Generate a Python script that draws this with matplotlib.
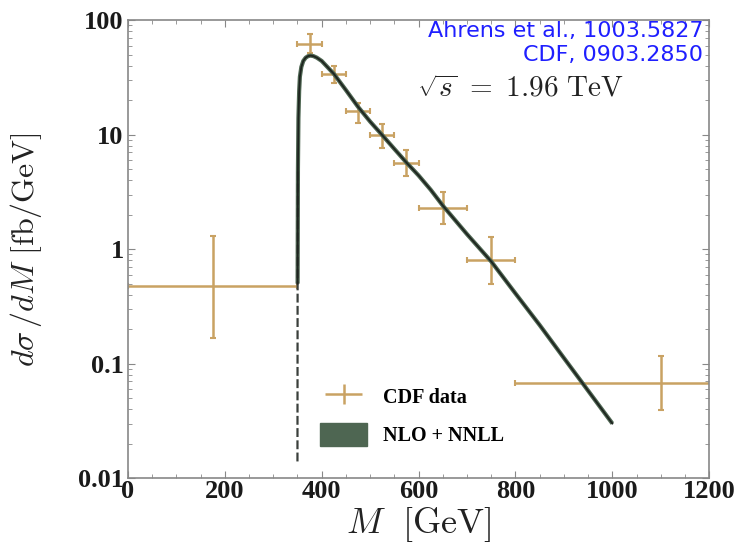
import numpy as np
import matplotlib
matplotlib.use('Agg')
import matplotlib.pyplot as plt
from matplotlib.patches import Patch
from matplotlib.legend_handler import HandlerErrorbar
from matplotlib.ticker import FixedLocator, NullFormatter

plt.rcParams['mathtext.fontset'] = 'cm'
plt.rcParams['font.family'] = 'Liberation Serif'

# CDF data points (M bin centre, value, errors)
m_data = [175, 375, 425, 475, 525, 575, 650, 750, 1100]
y_data = [0.475, 62, 34, 16, 9.9, 5.7, 2.3, 0.8, 0.068]
y_up = [1.30, 75, 39.8, 19, 12.5, 7.3, 3.18, 1.28, 0.116]
y_lo = [0.168, 51.6, 28.5, 12.7, 7.7, 4.35, 1.66, 0.494, 0.039]
m_lo = [0, 350, 400, 450, 500, 550, 600, 700, 800]
m_hi = [350, 400, 450, 500, 550, 600, 700, 800, 1400]

# NLO + NNLL curve
m_curve = [350, 350.3, 351, 352, 353.5, 355, 358, 362, 367, 372, 377, 383, 390,
           400, 425, 450, 475, 500, 525, 550, 575, 600, 625, 650, 700, 750,
           800, 850, 900, 950, 1000]
y_curve = [0.014, 0.5, 5, 14, 24, 32, 39, 44, 47, 48.5, 49, 48.5, 47,
           44, 34, 24.5, 17.5, 13, 9.9, 7.5, 5.7, 4.4, 3.3, 2.4, 1.35, 0.78,
           0.41, 0.217, 0.112, 0.058, 0.030]
n_rise = 2  # threshold part drawn dashed

data_col = '#c9a263'
band_col = '#4e6652'

fig = plt.figure(figsize=(7.35, 5.44), dpi=100)
ax = fig.add_axes([0.174, 0.121, 0.791, 0.842])

yerr = [np.array(y_data) - np.array(y_lo), np.array(y_up) - np.array(y_data)]
xerr = [np.array(m_data) - np.array(m_lo), np.array(m_hi) - np.array(m_data)]
ax.errorbar(m_data, y_data, xerr=xerr, yerr=yerr, fmt='none', ecolor=data_col,
            elinewidth=1.8, capsize=2.5, capthick=1.5, zorder=2)

# rising edge at threshold: thin dashed
ax.plot(m_curve[:n_rise + 1], y_curve[:n_rise + 1], color='#3a3f3b', lw=1.6,
        ls=(0, (4, 1.5)), zorder=4)
ax.plot(m_curve[n_rise - 1:], y_curve[n_rise - 1:], color=band_col, lw=3.0,
        solid_capstyle='butt', zorder=3)
ax.plot(m_curve[n_rise - 1:], y_curve[n_rise - 1:], color='#1e241f', lw=1.3, zorder=4)

ax.set_yscale('log')
ax.set_xlim(0, 1200)
ax.set_ylim(0.01, 100)
ax.set_xticks([0, 200, 400, 600, 800, 1000, 1200])
ax.xaxis.set_minor_locator(FixedLocator(np.arange(0, 1201, 50)))
ax.set_yticks([0.01, 0.1, 1, 10, 100])
ax.set_yticklabels(['0.01', '0.1', '1', '10', '100'])
ax.yaxis.set_minor_formatter(NullFormatter())

ax.tick_params(which='both', direction='in', top=True, right=True, color='#888888')
ax.tick_params(which='major', length=5, width=0.8, labelsize=19, labelcolor='#1a1a1a')
ax.tick_params(which='minor', length=3, width=0.6)
ax.tick_params(axis='x', pad=1)
ax.tick_params(axis='y', pad=3)
for lab in ax.get_xticklabels() + ax.get_yticklabels():
    lab.set_fontweight('bold')
for s in ax.spines.values():
    s.set_color('#888888')
    s.set_linewidth(1.2)

ax.set_xlabel(r'$M\ \ [\mathrm{GeV}]$', fontsize=26, labelpad=2, color='#222222')
ax.set_ylabel(r'$d\sigma\,/dM\ [\mathrm{fb/GeV}]$', fontsize=23, labelpad=24, color='#222222')

ax.text(0.99, 0.998, 'Ahrens et al., 1003.5827', transform=ax.transAxes, ha='right', va='top',
        color='#1f1fff', fontsize=16, family='DejaVu Sans')
ax.text(0.99, 0.946, 'CDF, 0903.2850', transform=ax.transAxes, ha='right', va='top',
        color='#1f1fff', fontsize=16, family='DejaVu Sans')
ax.text(0.498, 0.85, r'$\sqrt{s}\ =\ 1.96\ \mathrm{TeV}$', transform=ax.transAxes,
        ha='left', va='center', fontsize=21, color='#222222')

h_data = ax.errorbar([], [], xerr=[], yerr=[], fmt='none', ecolor=data_col,
                     elinewidth=1.8, capsize=2.5, capthick=1.5)
h_band = Patch(facecolor=band_col, edgecolor=band_col)
leg = ax.legend([h_data, h_band], ['CDF data', 'NLO + NNLL'], loc='lower left',
                bbox_to_anchor=(0.30, 0.03), frameon=False, fontsize=14.5,
                handlelength=2.3, handleheight=1.4, labelspacing=0.75, handletextpad=0.8,
                handler_map={h_data: HandlerErrorbar(xerr_size=0.9, yerr_size=0.5)})
for t in leg.get_texts():
    t.set_fontweight('bold')

fig.savefig('out.png', dpi=100)
